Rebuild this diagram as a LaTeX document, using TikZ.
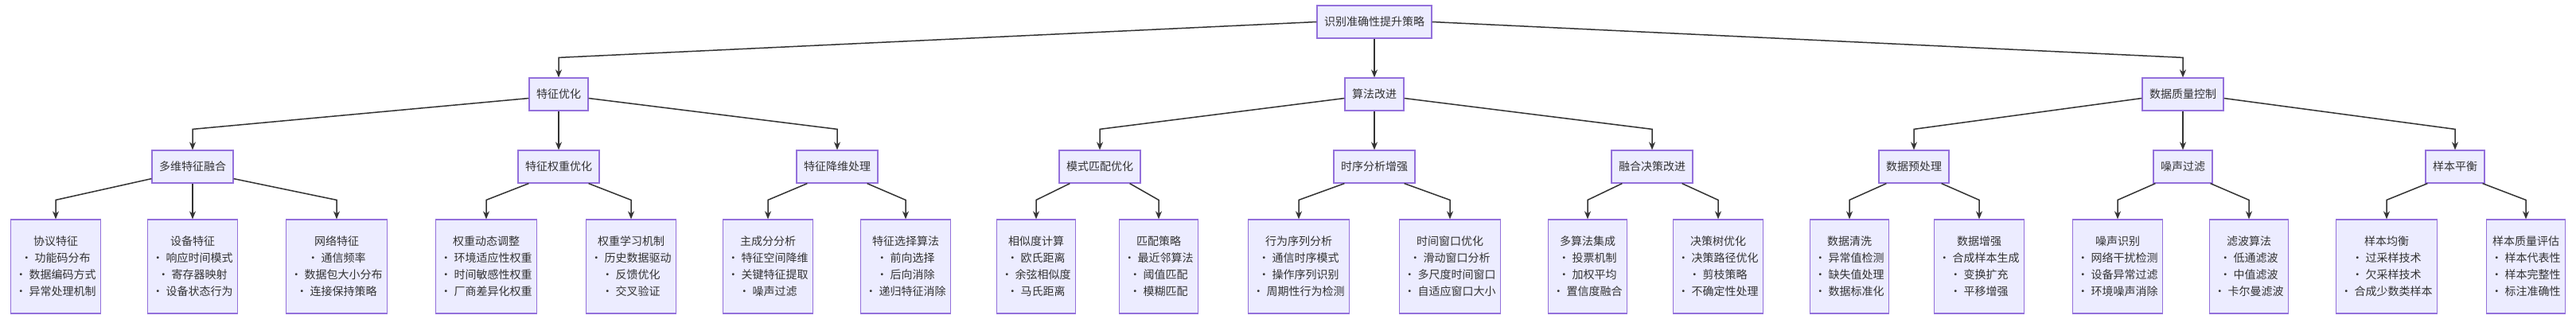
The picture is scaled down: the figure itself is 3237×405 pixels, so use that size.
\documentclass[tikz,border=0pt]{standalone}
\usepackage{fontspec}
\setmainfont{Noto Sans CJK SC}
\usetikzlibrary{arrows.meta,calc}

\definecolor{boxfill}{HTML}{ECECFF}
\definecolor{boxline}{HTML}{9370DB}
\definecolor{linkcol}{HTML}{333333}

% connector: parent start point, child node, drop height
\newcommand{\treelink}[3]{\draw[link] (#1) -- ($(#2.north)+(0,-#3)$) -- (#2.north);}

\begin{document}
\begin{tikzpicture}[x=1pt,y=-1pt,
  box/.style={draw=boxline,fill=boxfill,line width=1.2pt,inner xsep=9pt,
    minimum height=41pt,font=\fontsize{14}{21}\selectfont,text=black!80},
  leaf/.style={box,minimum height=118pt,align=center,inner xsep=6pt},
  link/.style={draw=linkcol,line width=1.5pt,-{Stealth[length=10pt,width=8pt]}}]
\useasboundingbox (0,0) rectangle (3237,405);
\node[box] (root) at (1727,27.5) {识别准确性提升策略};
% level one
\node[box] (feat) at (702,118.5) {特征优化};
\node[box] (algo) at (1727,118.5) {算法改进};
\node[box] (data) at (2743,118.5) {数据质量控制};
% level two
\node[box] (fuse) at (242,209.5) {多维特征融合};
\node[box] (weight) at (702,209.5) {特征权重优化};
\node[box] (reduce) at (1052,209.5) {特征降维处理};
\node[box] (match) at (1382,209.5) {模式匹配优化};
\node[box] (seq) at (1727,209.5) {时序分析增强};
\node[box] (decide) at (2076,209.5) {融合决策改进};
\node[box] (prep) at (2405,209.5) {数据预处理};
\node[box] (noise) at (2743,209.5) {噪声过滤};
\node[box] (balance) at (3085,209.5) {样本平衡};
% leaves
\node[leaf] (proto) at (70,335) {协议特征\\• 功能码分布\\• 数据编码方式\\• 异常处理机制};
\node[leaf] (dev) at (242,335) {设备特征\\• 响应时间模式\\• 寄存器映射\\• 设备状态行为};
\node[leaf] (net) at (423,335) {网络特征\\• 通信频率\\• 数据包大小分布\\• 连接保持策略};
\node[leaf] (dyn) at (611,335) {权重动态调整\\• 环境适应性权重\\• 时间敏感性权重\\• 厂商差异化权重};
\node[leaf] (learn) at (793,335) {权重学习机制\\• 历史数据驱动\\• 反馈优化\\• 交叉验证};
\node[leaf] (pca) at (965,335) {主成分分析\\• 特征空间降维\\• 关键特征提取\\• 噪声过滤};
\node[leaf] (select) at (1138,335) {特征选择算法\\• 前向选择\\• 后向消除\\• 递归特征消除};
\node[leaf] (sim) at (1302,335) {相似度计算\\• 欧氏距离\\• 余弦相似度\\• 马氏距离};
\node[leaf] (strat) at (1456,335) {匹配策略\\• 最近邻算法\\• 阈值匹配\\• 模糊匹配};
\node[leaf] (behav) at (1632,335) {行为序列分析\\• 通信时序模式\\• 操作序列识别\\• 周期性行为检测};
\node[leaf] (window) at (1822,335) {时间窗口优化\\• 滑动窗口分析\\• 多尺度时间窗口\\• 自适应窗口大小};
\node[leaf] (ensem) at (1995,335) {多算法集成\\• 投票机制\\• 加权平均\\• 置信度融合};
\node[leaf] (dtree) at (2159,335) {决策树优化\\• 决策路径优化\\• 剪枝策略\\• 不确定性处理};
\node[leaf] (clean) at (2324,335) {数据清洗\\• 异常值检测\\• 缺失值处理\\• 数据标准化};
\node[leaf] (augment) at (2487,335) {数据增强\\• 合成样本生成\\• 变换扩充\\• 平移增强};
\node[leaf] (nid) at (2661,335) {噪声识别\\• 网络干扰检测\\• 设备异常过滤\\• 环境噪声消除};
\node[leaf] (filt) at (2826,335) {滤波算法\\• 低通滤波\\• 中值滤波\\• 卡尔曼滤波};
\node[leaf] (even) at (2999,335) {样本均衡\\• 过采样技术\\• 欠采样技术\\• 合成少数类样本};
\node[leaf] (qual) at (3174,335) {样本质量评估\\• 样本代表性\\• 样本完整性\\• 标注准确性};
% connectors, root to level one
\treelink{root.west}{feat}{25}
\treelink{root.south}{algo}{25}
\treelink{root.east}{data}{25}
% level one to level two
\treelink{$(feat.west)+(0,5)$}{fuse}{26}
\treelink{feat.south}{weight}{26}
\treelink{$(feat.east)+(0,5)$}{reduce}{26}
\treelink{$(algo.west)+(0,5)$}{match}{26}
\treelink{algo.south}{seq}{26}
\treelink{$(algo.east)+(0,5)$}{decide}{26}
\treelink{$(data.west)+(0,5)$}{prep}{26}
\treelink{data.south}{noise}{26}
\treelink{$(data.east)+(0,5)$}{balance}{26}
% level two to leaves
\treelink{$(fuse.south west)+(0,-6)$}{proto}{24}
\treelink{fuse.south}{dev}{24}
\treelink{$(fuse.south east)+(0,-6)$}{net}{24}
\treelink{$(weight.south west)+(14,0)$}{dyn}{24}
\treelink{$(weight.south east)+(-14,0)$}{learn}{24}
\treelink{$(reduce.south west)+(14,0)$}{pca}{24}
\treelink{$(reduce.south east)+(-14,0)$}{select}{24}
\treelink{$(match.south west)+(14,0)$}{sim}{24}
\treelink{$(match.south east)+(-14,0)$}{strat}{24}
\treelink{$(seq.south west)+(14,0)$}{behav}{24}
\treelink{$(seq.south east)+(-14,0)$}{window}{24}
\treelink{$(decide.south west)+(14,0)$}{ensem}{24}
\treelink{$(decide.south east)+(-14,0)$}{dtree}{24}
\treelink{$(prep.south west)+(10,0)$}{clean}{24}
\treelink{$(prep.south east)+(-10,0)$}{augment}{24}
\treelink{$(noise.south west)+(3,0)$}{nid}{24}
\treelink{$(noise.south east)+(-3,0)$}{filt}{24}
\treelink{$(balance.south west)+(3,0)$}{even}{24}
\treelink{$(balance.south east)+(-3,0)$}{qual}{24}
\end{tikzpicture}
\end{document}
